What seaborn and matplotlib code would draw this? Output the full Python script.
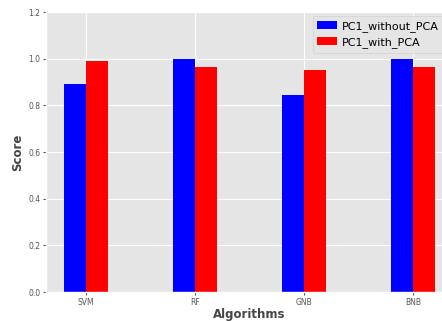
import matplotlib
matplotlib.use("Agg")
import matplotlib.pyplot as plt
import seaborn as sns
import pandas as pd

algorithms = ["SVM", "RF", "GNB", "BNB"]
without_pca = [0.89, 1.0, 0.844, 1.0]
with_pca = [0.99, 0.964, 0.951, 0.964]
series_names = ["PC1_without_PCA", "PC1_with_PCA"]

df = pd.DataFrame({
    "Algorithms": algorithms * 2,
    "Score": without_pca + with_pca,
    "Series": [series_names[0]] * 4 + [series_names[1]] * 4,
})

plt.style.use("ggplot")
fig = plt.figure(figsize=(4.42, 3.21), dpi=100)
ax = fig.add_axes([0.104, 0.0903, 0.921, 0.872])
sns.barplot(data=df, x="Algorithms", y="Score", hue="Series",
            palette=["#0000ff", "#ff0000"], saturation=1, width=0.4,
            linewidth=0, ax=ax)
ax.set_xlim(-0.37, 3.37)
ax.set_ylim(0, 1.2)
ax.set_yticks([0.0, 0.2, 0.4, 0.6, 0.8, 1.0, 1.2])
ax.xaxis.grid(True, color="white")
ax.yaxis.grid(True, color="white")
ax.set_axisbelow(True)
ax.tick_params(axis="both", labelsize=5.5, colors="#555555", length=2, pad=2)
ax.set_xlabel("Algorithms", fontsize=8.5, fontweight="bold", color="#444444", labelpad=1)
ax.set_ylabel("Score", fontsize=8.5, fontweight="bold", color="#444444", labelpad=3)
leg = ax.legend(loc="upper right", bbox_to_anchor=(0.975, 0.985), fontsize=8,
                frameon=True, handlelength=1.8, handletextpad=0.4,
                labelspacing=0.5, borderaxespad=0.0)
leg.set_title(None)
fig.savefig("out.png", dpi=100)
